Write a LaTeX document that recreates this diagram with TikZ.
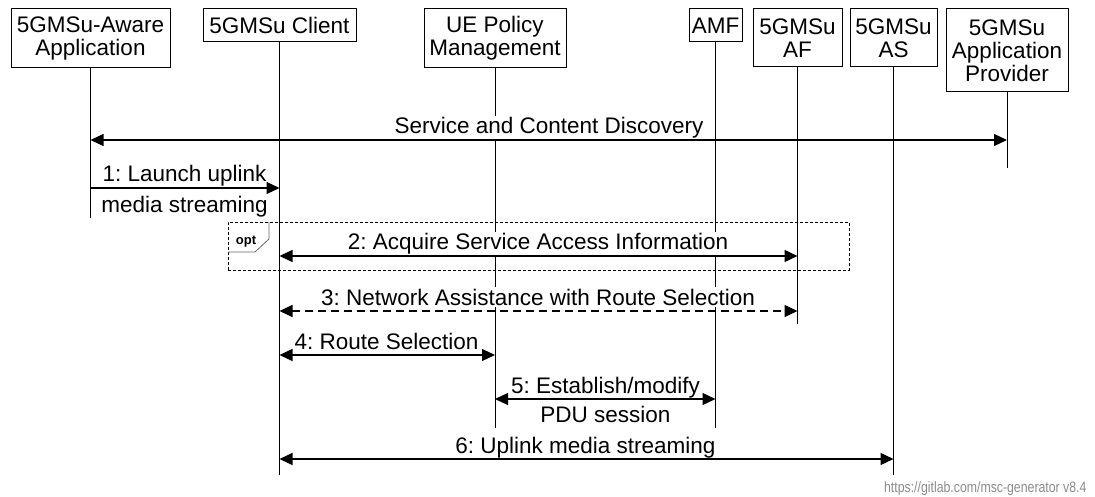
\documentclass[tikz,border=0pt]{standalone}
\usepackage{fontspec}
\setmainfont{Liberation Sans}
\newfontfamily\wmfont[FakeStretch=0.82]{Liberation Sans}
\usepackage{tikz}
\usetikzlibrary{positioning,arrows.meta}
\frenchspacing

\begin{document}
\begin{tikzpicture}[
          x=1pt, y=-1pt,
          ent/.style={draw, line width=1pt, fill=white, align=center, inner sep=0pt, font=\fontsize{22.5}{23}\selectfont},
          life/.style={line width=1pt},
          lbl/.style={fill=white, inner sep=2pt, font=\fontsize{22.5}{22.5}\selectfont},
          msg/.style={line width=1.2pt, {Triangle[length=13pt,width=12pt]}-{Triangle[length=13pt,width=12pt]}},
          msgr/.style={line width=1.2pt, -{Triangle[length=13pt,width=12pt]}}
      ]
        \useasboundingbox[fill=white] (0,0) rectangle (1095,497);
        \node[ent, minimum width=159pt, minimum height=59pt] (app) at (90.5,38.5) {5GMSu-Aware\\Application};
        \node[ent, minimum width=153pt, minimum height=33pt] (client) at (279.5,25.5) {5GMSu Client};
        \node[ent, minimum width=142pt, minimum height=59pt] (uepm) at (495,38.5) {UE Policy\\Management};
        \node[ent, minimum width=53pt, minimum height=33pt] (amf) at (715.5,25.5) {AMF};
        \node[ent, minimum width=89pt, minimum height=58pt] (af) at (797.5,38) {5GMSu\\AF};
        \node[ent, minimum width=87pt, minimum height=58pt] (as) at (893.5,38) {5GMSu\\AS};
        \node[ent, minimum width=122pt, minimum height=83pt] (prov) at (1007,50.5) {5GMSu\\Application\\Provider};
        \foreach \n/\e in {app/218, client/475, uepm/428, amf/428, af/324, as/475, prov/168} {
          \coordinate (\n-end) at (\n.south |- 0,\e);
          \draw[life] (\n) -- (\n-end);
        }
        \coordinate (r0) at (0,140);
        \coordinate (r1) at (0,188);
        \coordinate (r2) at (0,256);
        \coordinate (r3) at (0,311);
        \coordinate (r4) at (0,355);
        \coordinate (r5) at (0,399);
        \coordinate (r6) at (0,459);
        \node[draw, dashed, dash pattern=on 3pt off 2pt, line width=0.8pt, minimum width=621pt, minimum height=48pt, inner sep=0pt, anchor=north west] (optbox) at (228,222) {};
        \draw[black!60, line width=0.8pt] (optbox.north west) ++(0,30) -- ++(27,0) -- ++(14,-13) -- ++(0,-17);
        \node[font=\fontsize{13}{13}\selectfont\bfseries] (opt) at (246,242) {opt};
        \node[lbl, anchor=base] (l0) at (549,134) {Service and Content Discovery};
        \node[lbl, anchor=base] (l1a) at (184.5,182) {1: Launch uplink};
        \node[lbl, anchor=base] (l1b) at (184.5,213) {media streaming};
        \node[lbl, anchor=base] (l2) at (538,250) {2: Acquire Service Access Information};
        \node[lbl, anchor=base] (l3) at (538,305) {3: Network Assistance with Route Selection};
        \node[lbl, anchor=base] (l4) at (386.5,349) {4: Route Selection};
        \node[lbl, anchor=base] (l5a) at (605.5,393) {5: Establish/modify};
        \node[lbl, anchor=base] (l5b) at (605.5,422) {PDU session};
        \node[lbl, anchor=base] (l6) at (585.5,453) {6: Uplink media streaming};
        \draw[msg] (app |- r0) -- (prov |- r0);
        \draw[msgr] (app |- r1) -- (client |- r1);
        \draw[msg] (client |- r2) -- (af |- r2);
        \draw[msg, dash pattern=on 8pt off 5pt] (client |- r3) -- (af |- r3);
        \draw[msg] (client |- r4) -- (uepm |- r4);
        \draw[msg] (uepm |- r5) -- (amf |- r5);
        \draw[msg] (client |- r6) -- (as |- r6);
        \node[anchor=base east, text=black!45, font=\wmfont\fontsize{15}{15}\selectfont] (wm) at (1090,492) {https://gitlab.com/msc-generator v8.4};
      \end{tikzpicture}
\end{document}
